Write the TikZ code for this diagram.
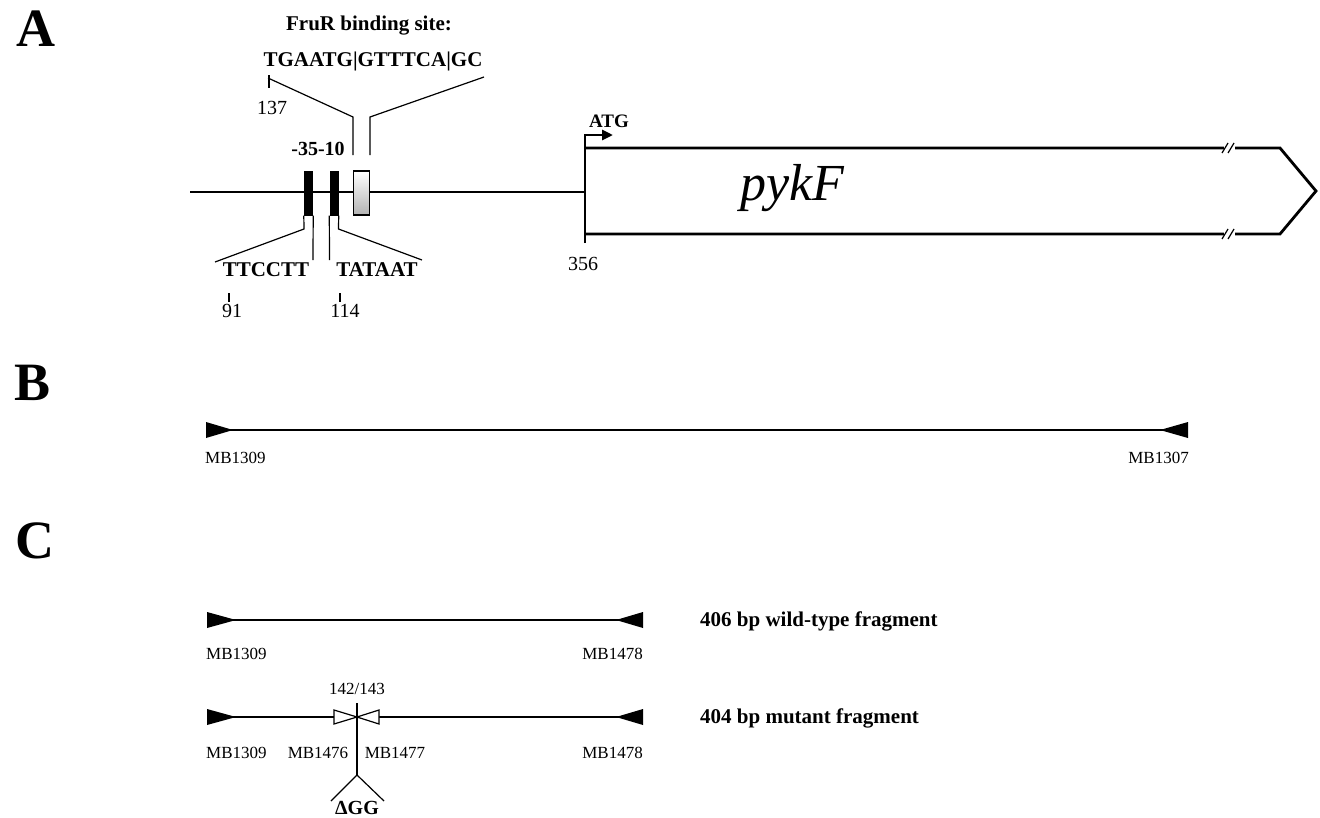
\documentclass[tikz,border=0pt]{standalone}
\usepackage{fontspec}
\setmainfont{Liberation Serif}
\usetikzlibrary{arrows.meta}
\newcommand{\fsz}[1]{\fontsize{#1}{#1}\selectfont}
\tikzset{
  panel/.style={font=\fsz{54}\bfseries, inner sep=0pt},
  thickline/.style={line width=2.8pt},
  thinline/.style={line width=1.2pt},
  seqtext/.style={font=\fsz{21}\bfseries, inner sep=0pt},
  numtext/.style={font=\fsz{20}, inner sep=0pt},
  mbtext/.style={font=\fsz{17}, inner sep=0pt},
  fragtext/.style={font=\fsz{21}\bfseries, inner sep=0pt, anchor=west},
  primer/.style={fill=black},
  blackbox/.style={fill=black, inner sep=0pt, minimum width=9pt, minimum height=45pt},
}
\begin{document}
\begin{tikzpicture}[x=1pt,y=-1pt]
\useasboundingbox (0,0) rectangle (1320,817);

% panel letters
\node[panel] (lA) at (36,29) {A};
\node[panel] (lB) at (33,383) {B};
\node[panel] (lC) at (35,541) {C};

% ---------- Panel A ----------
\coordinate (a0) at (190,192);
\coordinate (g0) at (585,192);
\draw[thickline] (a0) -- (g0);

\node[blackbox] (m35) at (308.5,193) {};
\node[blackbox] (m10) at (334,193) {};
\node[draw, line width=1.6pt, inner sep=0pt, minimum width=16pt, minimum height=44pt,
      top color=white, bottom color=gray!60] (fru) at (361.5,193) {};

\node[font=\fsz{21}\bfseries, inner sep=0pt] (frutitle) at (369,26) {FruR binding site:};
\node[seqtext] (fruseq) at (373,61) {TGAATG|GTTTCA|GC};
\node[numtext] (n137) at (272,108) {137};
\node[font=\fsz{20}\bfseries, inner sep=0pt] (pm) at (318,149) {-35-10};

\coordinate (f1) at (268,78);
\coordinate (f2) at (484,77);
\draw[thinline] (f1) -- (353,117) -- (353,155);
\draw[thinline] (f2) -- (370,117) -- (370,155);
\draw[thinline] (269,75) -- (269,88);

\coordinate (t1) at (215,262);
\coordinate (t2) at (422,260);
\draw[thinline] (m35.south west) -- (304,229) -- (t1);
\draw[thinline] (m35.south east) -- (313,260);
\draw[thinline] (m10.south west) -- (329.5,260);
\draw[thinline] (m10.south east) -- (338.5,229) -- (t2);

\node[seqtext] (s35) at (266,270) {TTCCTT};
\node[seqtext] (s10) at (377,270) {TATAAT};
\draw[thinline] (229,293) -- (229,302);
\draw[thinline] (340,293) -- (340,302);
\node[numtext] (n91) at (232,311) {91};
\node[numtext] (n114) at (345,311) {114};

% gene
\draw[thickline, line join=miter] (585,148) -- (1280,148) -- (1316,191) -- (1280,234) -- (585,234);
\draw[thickline, -{Triangle[length=11pt,width=10pt]}] (585,243) -- (585,135) -- (613,135);
\node[font=\fsz{19}\bfseries, inner sep=0pt] (atg) at (609,121) {ATG};
\node[numtext] (n356) at (583,264) {356};
\node[font=\fsz{52}\itshape, inner sep=0pt] (pykF) at (792,188) {pykF};

% break marks
\foreach \yy in {148,234} {
  \fill[white] (1224,\yy-3) rectangle (1235,\yy+3);
  \draw[thinline] (1222,\yy+5) -- (1228,\yy-5);
  \draw[thinline] (1228,\yy+5) -- (1234,\yy-5);
}

% ---------- Panel B ----------
\coordinate (b0) at (206,430);
\coordinate (b1) at (1188,430);
\draw[thickline] (b0) -- (b1);
\fill[primer] (206,422) -- (206,438) -- (233,430) -- cycle;
\fill[primer] (1188,422) -- (1188,438) -- (1160,430) -- cycle;
\node[mbtext, anchor=west] (mb1309b) at (205,458) {MB1309};
\node[mbtext, anchor=east] (mb1307b) at (1189,458) {MB1307};

% ---------- Panel C ----------
\coordinate (c0) at (207,620);
\coordinate (c1) at (643,620);
\draw[thickline] (c0) -- (c1);
\fill[primer] (207,612) -- (207,628) -- (236,620) -- cycle;
\fill[primer] (643,612) -- (643,628) -- (616,620) -- cycle;
\node[mbtext, anchor=west] (mb1309w) at (206,654) {MB1309};
\node[mbtext, anchor=east] (mb1478w) at (643,654) {MB1478};
\node[fragtext] (wt) at (700,621) {406 bp wild-type fragment};

\coordinate (d0) at (207,717);
\coordinate (d1) at (643,717);
\draw[thickline] (d0) -- (d1);
\fill[primer] (207,709) -- (207,725) -- (236,717) -- cycle;
\fill[primer] (643,709) -- (643,725) -- (616,717) -- cycle;
\coordinate (mut) at (357,717);
\draw[thinline, fill=white] (334,710) -- (334,724) -- (mut) -- cycle;
\draw[thinline, fill=white] (379,710) -- (379,724) -- (mut) -- cycle;
\coordinate (vtop) at (357,703);
\coordinate (vapex) at (357,775);
\draw[thinline] (vtop) -- (vapex);
\draw[thinline] (331,801) -- (vapex) -- (384,801);
\node[mbtext] (n142) at (357,689) {142/143};
\node[mbtext, anchor=west] (mb1309m) at (206,753) {MB1309};
\node[mbtext] (mb1476) at (318,753) {MB1476};
\node[mbtext] (mb1477) at (395,753) {MB1477};
\node[mbtext, anchor=east] (mb1478m) at (643,753) {MB1478};
\node[font=\fsz{20}\bfseries, inner sep=0pt] (dgg) at (357,808) {ΔGG};
\node[fragtext] (mt) at (700,718) {404 bp mutant fragment};
\end{tikzpicture}
\end{document}
